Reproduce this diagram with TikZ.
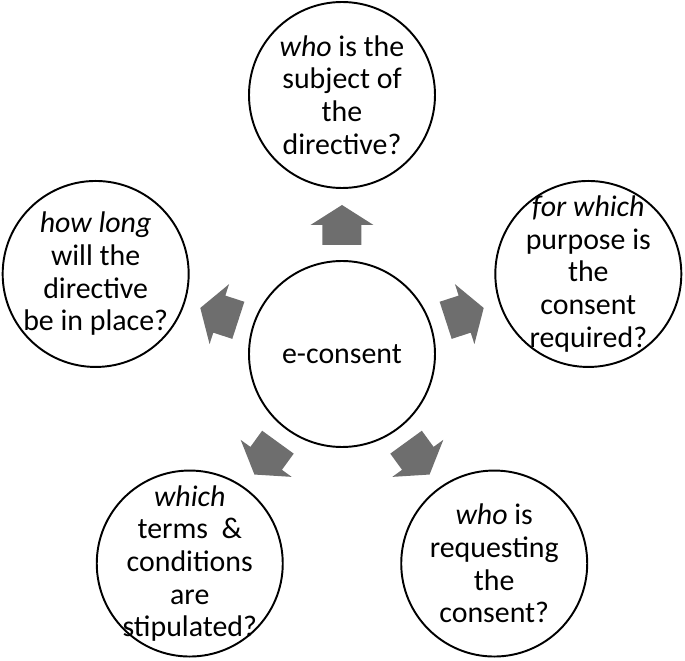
\documentclass[tikz,border=0pt]{standalone}
\usepackage{fontspec}
\setmainfont{Carlito}
\usepackage{tikz}
\usetikzlibrary{positioning}

\definecolor{arrowgray}{RGB}{110,110,110}

\tikzset{
    ring/.style={draw, circle, line width=1.1pt, minimum size=3.72cm, inner sep=0pt},
    qtext/.style={align=center, font=\fontsize{17}{18.6}\selectfont},
    blockarrow/.style={fill=arrowgray}
}

\begin{document}
\begin{tikzpicture}
    \useasboundingbox (-6.84,-6.14) rectangle (6.86,7.08);

    % Centre
    \node[ring] (econsent) at (0,0) {};
    \node[qtext] (econsent-txt) at (econsent) {e-consent};

    % Questions round the centre
    \node[ring] (subject) at (90:5.18) {};
    \node[qtext] (subject-txt) at (subject) {\textit{who} is the\\subject of\\the\\directive?};

    \node[ring] (duration) at (162:5.18) {};
    \node[qtext] (duration-txt) at (duration) {\textit{how long}\\will the\\directive\\be in place?};

    \node[ring] (terms) at (234:5.18) {};
    \node[qtext] (terms-txt) at (terms) {\textit{which}\\terms~~\&\\conditions\\are\\stipulated?};

    \node[ring] (requester) at (306:5.18) {};
    \node[qtext] (requester-txt) at (requester) {\textit{who} is\\requesting\\the\\consent?};

    \node[ring] (purpose) at (18:5.18) {};
    \node[qtext] (purpose-txt) at (purpose) {\textit{for which}\\purpose is\\the\\consent\\required?};

    % Block arrows (centre -> questions)
    \foreach \a in {90, 162, 234, 306, 18} {
        \fill[blockarrow, rotate=\a] (2.18,0.39) -- (2.58,0.39) -- (2.58,0.63) -- (2.98,0)
            -- (2.58,-0.63) -- (2.58,-0.39) -- (2.18,-0.39) -- cycle;
    }
\end{tikzpicture}
\end{document}
